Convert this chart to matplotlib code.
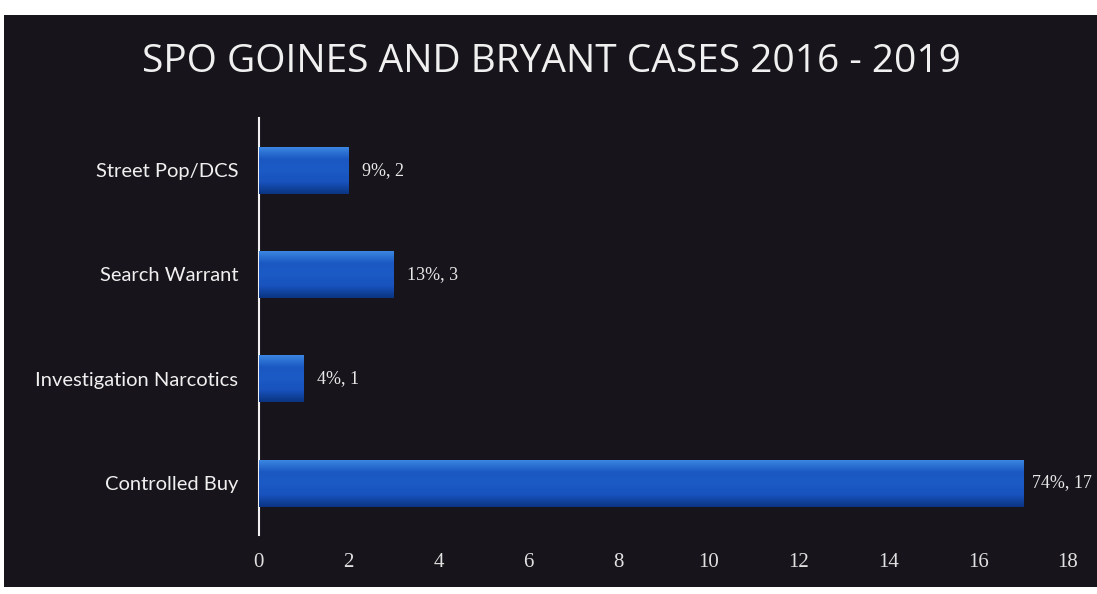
import matplotlib
matplotlib.use("Agg")
import matplotlib.pyplot as plt
import numpy as np
from matplotlib.patches import Rectangle
from matplotlib.colors import LinearSegmentedColormap

categories = ["Controlled Buy", "Investigation Narcotics", "Search Warrant", "Street Pop/DCS"]
counts = [17, 1, 3, 2]
percents = ["74%", "4%", "13%", "9%"]
xticks = [0, 2, 4, 6, 8, 10, 12, 14, 16, 18]
title = "SPO GOINES AND BRYANT CASES 2016 - 2019"

BG = "#17151b"
fig = plt.figure(figsize=(10.97, 5.94), dpi=100)
fig.patch.set_facecolor("white")
# dark slide panel
panel = Rectangle((0.004, 0.012), 0.996, 0.962, transform=fig.transFigure,
                  facecolor=BG, edgecolor="none", zorder=-10)
fig.patches.append(panel)

ax = fig.add_axes([0.236, 0.099, 0.7376, 0.7023])
ax.set_facecolor("none")
ax.set_zorder(5)

ypos = np.arange(len(categories))
bars = ax.barh(ypos, counts, height=0.45, color="#1a56c0", edgecolor="none", zorder=2)

# vertical gradient inside each bar
grad = np.linspace(0, 1, 64).reshape(-1, 1)
cmap = LinearSegmentedColormap.from_list("b", ["#0b3482", "#1852bd", "#1c5ac6", "#1b58c2", "#3a86e0"])
for b in bars:
    x0, y0 = b.get_x(), b.get_y()
    w, h = b.get_width(), b.get_height()
    im = ax.imshow(grad, extent=[x0, x0 + w, y0, y0 + h], aspect="auto", cmap=cmap,
                   origin="lower", zorder=3)
    im.set_clip_path(b)

for y, c, p in zip(ypos, counts, percents):
    off = 0.2 if c > 10 else 0.3
    ax.text(c + off, y, f"{p}, {c}", color="#e8e8e8", fontsize=13,
            family="Liberation Serif", va="center", ha="left", zorder=4)

ax.set_xlim(0, 18)
ax.set_ylim(-0.5, 3.5)
ax.set_xticks(xticks)
ax.set_xticklabels([str(t) for t in xticks], family="Liberation Serif", fontsize=15, color="#e0e0e0")
ax.set_yticks(ypos)
ax.set_yticklabels(categories, family="Lato", fontsize=14.5, color="#f0f0f0")
ax.tick_params(axis="both", length=0)
ax.tick_params(axis="x", pad=13)
ax.tick_params(axis="y", pad=15)
for s in ["top", "right", "bottom"]:
    ax.spines[s].set_visible(False)
ax.spines["left"].set_color("#f0f0f0")
ax.spines["left"].set_linewidth(1.5)

fig.text(0.503, 0.896, title, color="#f0f0f0", fontsize=28, family="Open Sans",
         ha="center", va="center")

fig.savefig("out.png", dpi=100, facecolor=fig.get_facecolor())
